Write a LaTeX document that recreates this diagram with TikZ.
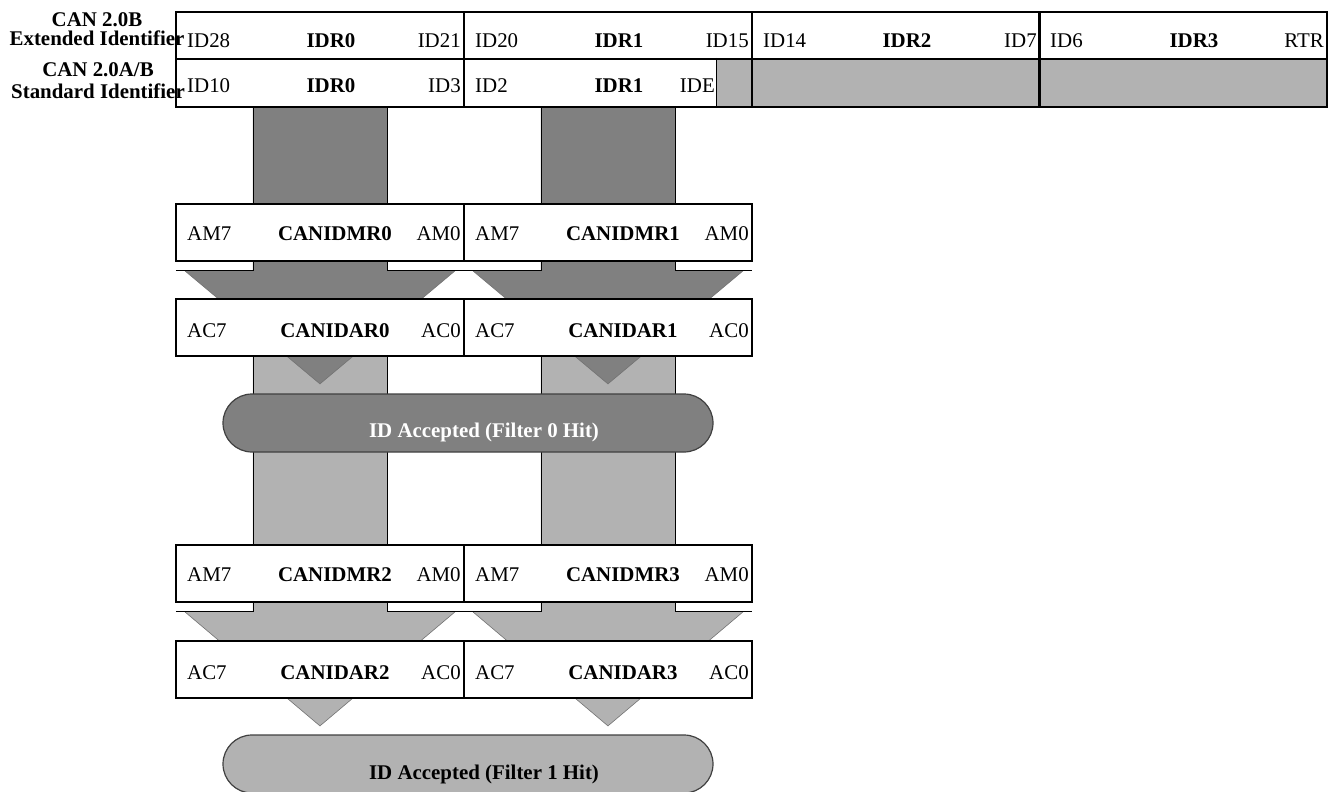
\documentclass[tikz,border=0pt]{standalone}
\usepackage{fontspec}
\setmainfont{Liberation Serif}
\usetikzlibrary{calc,positioning,backgrounds,shapes.misc}

\definecolor{darkbar}{gray}{0.5}
\definecolor{lightbar}{gray}{0.7}
\newcommand{\regfont}{\fontsize{20.9}{20}\selectfont}

\begin{document}
\begin{tikzpicture}[
		x=1pt, y=-1pt,
		bitlbl/.style={inner sep=0pt, font=\regfont},
		reglbl/.style={inner sep=0pt, font=\regfont\bfseries},
		idcell/.style={draw, line width=1.9pt, minimum width=288pt, minimum height=47pt, inner sep=0pt, anchor=north west},
		reg/.style={draw, line width=1.9pt, fill=white, minimum width=288pt, minimum height=57pt, inner sep=0pt, anchor=north west},
		pill/.style={rounded rectangle, draw=black!75, line width=1.2pt, minimum width=490pt, minimum height=58pt, inner sep=0pt},
		barside/.style={draw=black, line width=0.9pt},
		rim/.style={draw=black!55, line width=0.6pt}
		]
		
		\useasboundingbox (0,0) rectangle (1328,792);
		
		% --------------------------------------------------
		% Identifier registers
		% --------------------------------------------------
		\node[reglbl, align=center, font=\fontsize{20.9}{19}\selectfont\bfseries] (ext) at (97,29)
		{CAN 2.0B\\Extended Identifier};
		\node[reglbl, align=center, font=\fontsize{20.9}{22}\selectfont\bfseries] (std) at (98,81)
		{CAN 2.0A/B\\Standard Identifier};
		
		\foreach \i/\x in {0/175,1/463,2/751,3/1038}
		{
			\node[idcell] (E\i) at (\x,11) {};
			\node[idcell, minimum height=48pt] (S\i) at (\x,58) {};
		}
		
		\foreach \i/\lo/\nm/\hi in {0/ID28/IDR0/ID21,1/ID20/IDR1/ID15,2/ID14/IDR2/ID7,3/ID6/IDR3/RTR}
		{
			\node[bitlbl, anchor=base west] (E\i-hi) at ($(E\i.west)+(12,12)$) {\lo};
			\node[reglbl, anchor=base] (E\i-nm) at ($(E\i.center)+(11,12)$) {\nm};
			\node[bitlbl, anchor=base east] (E\i-lo) at ($(E\i.east)+(-4,12)$) {\hi};
		}
		
		% standard frame only uses IDR0 and IDR1
		\coordinate (ide) at (716,58);
		\node[bitlbl, anchor=base west] (S0-hi) at ($(S0.west)+(12,10)$) {ID10};
		\node[reglbl, anchor=base] (S0-nm) at ($(S0.center)+(11,10)$) {IDR0};
		\node[bitlbl, anchor=base east] (S0-lo) at ($(S0.east)+(-4,10)$) {ID3};
		\node[bitlbl, anchor=base west] (S1-hi) at ($(S1.west)+(12,10)$) {ID2};
		\node[reglbl, anchor=base] (S1-nm) at ($(S1.center)+(11,10)$) {IDR1};
		\node[bitlbl, anchor=base east] (S1-lo) at ($(S1.west |- S1-nm.base)+(252,0)$) {IDE};
		
		% --------------------------------------------------
		% Mask and acceptance registers
		% --------------------------------------------------
		\foreach \n/\x/\y in {0/175/203,1/463/203,2/175/544,3/463/544}
		{
			\node[reg] (MR\n) at (\x,\y) {};
			\node[bitlbl, anchor=base west] (MR\n-hi) at ($(MR\n.west)+(12,8)$) {AM7};
			\node[reglbl, anchor=base] (MR\n-nm) at ($(MR\n.center)+(15,8)$) {CANIDMR\n};
			\node[bitlbl, anchor=base east] (MR\n-lo) at ($(MR\n.east)+(-4,8)$) {AM0};
		}
		
		\foreach \n/\x/\y in {0/175/298,1/463/298,2/175/640,3/463/640}
		{
			\node[reg] (AR\n) at (\x,\y) {};
			\node[bitlbl, anchor=base west] (AR\n-hi) at ($(AR\n.west)+(12,10)$) {AC7};
			\node[reglbl, anchor=base] (AR\n-nm) at ($(AR\n.center)+(15,10)$) {CANIDAR\n};
			\node[bitlbl, anchor=base east] (AR\n-lo) at ($(AR\n.east)+(-4,10)$) {AC0};
		}
		
		% --------------------------------------------------
		% Flow arrows (behind the registers)
		% --------------------------------------------------
		\begin{scope}[on background layer]
			\fill[lightbar] (ide) rectangle (1326,106);
			\draw[line width=0.6pt] (ide) -- (716,106);
			
			\foreach \src/\mask/\accp/\tone in {AR0/MR2/AR2/lightbar,AR1/MR3/AR3/lightbar,S0/MR0/AR0/darkbar,S1/MR1/AR1/darkbar}
			{
				\fill[\tone] ($(\src.south)+(-67,0)$) -- ($(\mask.south)+(-67,9)$) -- ($(\mask.south)+(-135,9)$)
				-- ($(\accp.south)+(0,27)$) -- ($(\mask.south)+(135,9)$) -- ($(\mask.south)+(67,9)$)
				-- ($(\src.south)+(67,0)$) -- cycle;
				\draw[rim] ($(\mask.south)+(-135,9)$) -- ($(\accp.south)+(0,27)$) -- ($(\mask.south)+(135,9)$);
				\draw[barside] ($(\mask.south)+(-144,9)$) -- ($(\mask.south)+(-67,9)$) -- ($(\src.south)+(-67,0)$);
				\draw[barside] ($(\mask.south)+(144,9)$) -- ($(\mask.south)+(67,9)$) -- ($(\src.south)+(67,0)$);
			}
		\end{scope}
		
		% --------------------------------------------------
		% Filter hits
		% --------------------------------------------------
		\node[pill, fill=darkbar] (hit0) at (468,423) {};
		\node[reglbl, text=white, anchor=base] (hit0-txt) at ($(hit0.center)+(16,14)$) {ID Accepted (Filter 0 Hit)};
		
		\node[pill, fill=lightbar] (hit1) at (468,764) {};
		\node[reglbl, anchor=base] (hit1-txt) at ($(hit1.center)+(16,15)$) {ID Accepted (Filter 1 Hit)};
		
	\end{tikzpicture}
\end{document}
